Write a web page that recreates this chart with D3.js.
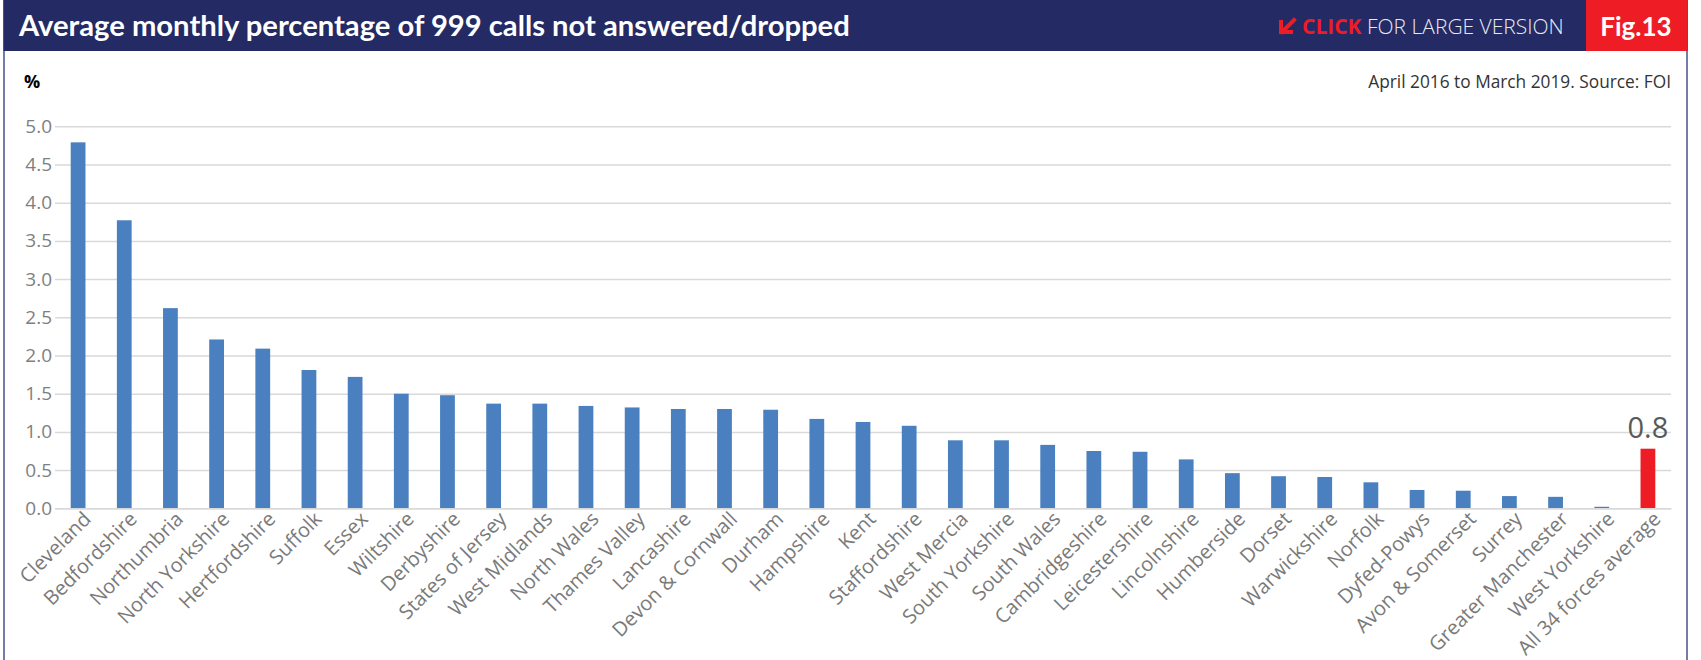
<!DOCTYPE html>
<html>
<head>
<meta charset="utf-8">
<script src="https://cdn.jsdelivr.net/npm/d3@7"></script>
<style>
  html, body { margin: 0; padding: 0; background: #fff; }
  svg { display: block; }
</style>
</head>
<body>
<svg id="chart" width="1701" height="660"></svg>
<script>
// Police forces, sorted by share of 999 calls not answered or dropped
const forces = [
  "Cleveland", "Bedfordshire", "Northumbria", "North Yorkshire", "Hertfordshire",
  "Suffolk", "Essex", "Wiltshire", "Derbyshire", "States of Jersey",
  "West Midlands", "North Wales", "Thames Valley", "Lancashire", "Devon & Cornwall",
  "Durham", "Hampshire", "Kent", "Staffordshire", "West Mercia",
  "South Yorkshire", "South Wales", "Cambridgeshire", "Leicestershire", "Lincolnshire",
  "Humberside", "Dorset", "Warwickshire", "Norfolk", "Dyfed-Powys",
  "Avon & Somerset", "Surrey", "Greater Manchester", "West Yorkshire", "All 34 forces average"
];

// Average monthly percentage (%)
const percentages = [
  4.79, 3.77, 2.62, 2.21, 2.09,
  1.81, 1.72, 1.50, 1.48, 1.37,
  1.37, 1.34, 1.32, 1.30, 1.30,
  1.29, 1.17, 1.13, 1.08, 0.89,
  0.89, 0.83, 0.75, 0.74, 0.64,
  0.46, 0.42, 0.41, 0.34, 0.24,
  0.23, 0.16, 0.15, 0.02, 0.78
];

// The average bar is highlighted and carries a value label
const highlighted = ["All 34 forces average"];

const yTicks = [0, 0.5, 1, 1.5, 2, 2.5, 3, 3.5, 4, 4.5, 5];

const titleText = "Average monthly percentage of 999 calls not answered/dropped";
const figLabel = "Fig.13";
const unitLabel = "%";
const sourceText = "April 2016 to March 2019. Source: FOI";

const data = forces.map((name, i) => ({ name, value: percentages[i] }));

const navy = "#232a64";
const red = "#ee1c25";
const barBlue = "#4a80c0";

const svg = d3.select("#chart");

// Frame
svg.append("rect")
  .attr("x", 4).attr("y", -2)
  .attr("width", 1683).attr("height", 670)
  .attr("fill", "#fff")
  .attr("stroke", "#4a4f8a").attr("stroke-width", 1.5);

// Header band
svg.append("rect")
  .attr("x", 3.5).attr("y", 0)
  .attr("width", 1684).attr("height", 51)
  .attr("fill", navy);

svg.append("text")
  .attr("x", 19).attr("y", 36)
  .attr("fill", "#fff")
  .style("font-family", "Lato, sans-serif")
  .style("font-weight", 700)
  .style("font-size", "29.2px")
  .text(titleText);

// "Click for large version" link
svg.append("path")
  .attr("d", "M1294,20 L1282,32 M1281,22 L1281,32 L1291,32")
  .attr("fill", "none")
  .attr("stroke", red)
  .attr("stroke-width", 4)
  .attr("stroke-linecap", "square");

const link = svg.append("text")
  .attr("x", 1302).attr("y", 34)
  .style("font-family", "'Open Sans', sans-serif")
  .style("font-size", "21px");
link.append("tspan").attr("fill", red).style("font-weight", 700).text("CLICK");
link.append("tspan").attr("fill", "#e8e9f2").style("font-weight", 300).text(" FOR LARGE VERSION");

// Figure number box
svg.append("rect")
  .attr("x", 1586).attr("y", 0)
  .attr("width", 101).attr("height", 51)
  .attr("fill", red);
svg.append("text")
  .attr("x", 1636).attr("y", 36)
  .attr("text-anchor", "middle")
  .attr("fill", "#fff")
  .style("font-family", "Lato, sans-serif")
  .style("font-weight", 700)
  .style("font-size", "26px")
  .text(figLabel);

// Unit and source notes
svg.append("text")
  .attr("x", 24).attr("y", 88)
  .attr("fill", "#000")
  .style("font-family", "'Open Sans', sans-serif")
  .style("font-weight", 700)
  .style("font-size", "18px")
  .text(unitLabel);

svg.append("text")
  .attr("x", 1671).attr("y", 88)
  .attr("text-anchor", "end")
  .attr("fill", "#333")
  .style("font-family", "'Open Sans', sans-serif")
  .style("font-size", "17.3px")
  .text(sourceText);

// Scales
const plotLeft = 55, plotRight = 1671, plotTop = 126.3, plotBottom = 508.3;

const x = d3.scaleBand()
  .domain(forces)
  .range([plotLeft, plotRight])
  .paddingInner(0.68)
  .paddingOuter(0.34);

const y = d3.scaleLinear()
  .domain([0, 5])
  .range([plotBottom, plotTop]);

// Gridlines
const grid = svg.append("g")
  .attr("transform", `translate(${plotLeft},0)`)
  .call(d3.axisLeft(y).tickValues(yTicks).tickSize(-(plotRight - plotLeft)).tickFormat(""));
grid.select(".domain").remove();
grid.selectAll("line").attr("stroke", "#d9d9d9").attr("stroke-width", 1.5);

// Y axis labels
const yAxis = svg.append("g")
  .attr("transform", `translate(${plotLeft},0)`)
  .call(d3.axisLeft(y).tickValues(yTicks).tickSize(0).tickPadding(3).tickFormat(d3.format(".1f")));
yAxis.select(".domain").remove();
yAxis.selectAll("text")
  .attr("fill", "#7f7f7f")
  .style("font-family", "'Open Sans', sans-serif")
  .style("font-size", "19px");

// Bars
svg.append("g")
  .selectAll("rect")
  .data(data)
  .join("rect")
  .attr("x", d => x(d.name))
  .attr("y", d => y(d.value))
  .attr("width", x.bandwidth())
  .attr("height", d => y(0) - y(d.value))
  .attr("fill", d => highlighted.includes(d.name) ? red : barBlue);

// Value label on the highlighted bar
svg.append("g")
  .selectAll("text")
  .data(data.filter(d => highlighted.includes(d.name)))
  .join("text")
  .attr("x", d => x(d.name) + x.bandwidth() / 2)
  .attr("y", d => y(d.value) - 11)
  .attr("text-anchor", "middle")
  .attr("fill", "#595959")
  .style("font-family", "'Open Sans', sans-serif")
  .style("font-size", "29px")
  .text(d => d3.format(".1f")(d.value));

// X axis with rotated force names
const xAxis = svg.append("g")
  .attr("transform", `translate(0,${plotBottom})`)
  .call(d3.axisBottom(x).tickSize(0));
xAxis.select(".domain").attr("stroke", "#d9d9d9").attr("stroke-width", 1.5);
xAxis.selectAll("text")
  .attr("x", 0).attr("y", 0).attr("dy", 0)
  .attr("text-anchor", "end")
  .attr("transform", "translate(14,12) rotate(-45)")
  .attr("fill", "#7a7a7a")
  .style("font-family", "'Open Sans', sans-serif")
  .style("font-size", "20px");
</script>
</body>
</html>
